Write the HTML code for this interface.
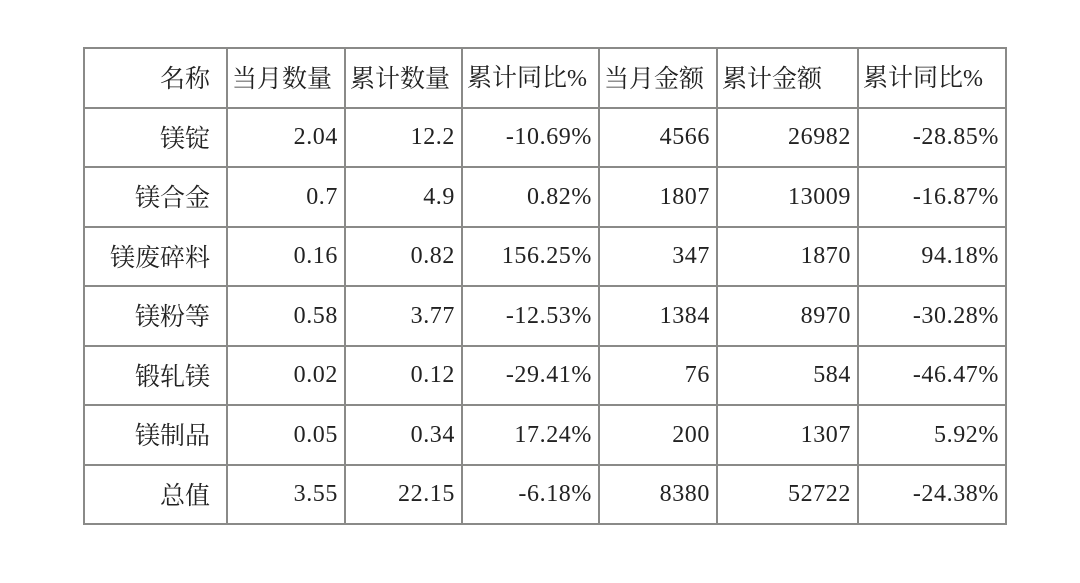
<!DOCTYPE html>
<html><head><meta charset="utf-8"><style>
html,body{margin:0;padding:0;background:#fff;}
body{width:1080px;height:583px;position:relative;overflow:hidden;}
table{position:absolute;left:83px;top:47px;border-collapse:collapse;table-layout:fixed;
font-family:"Noto Serif CJK SC","Liberation Serif",serif;font-size:25px;color:#222;}
td{border:2px solid #8a8a88;height:57.5px;padding:0 6px;text-align:right;white-space:nowrap;overflow:hidden;line-height:1;}
td:first-child{padding-right:16px;}
tr.h td{text-align:left;padding-left:4px;}
tr.h td:first-child{text-align:right;}
.n{font-family:"Liberation Serif",serif;font-size:24px;letter-spacing:0.6px;}
</style></head><body>
<table>
<colgroup><col style="width:143px"><col style="width:118px"><col style="width:117px"><col style="width:137px"><col style="width:118px"><col style="width:141px"><col style="width:148px"></colgroup>
<tr class="h"><td>名称</td><td>当月数量</td><td>累计数量</td><td>累计同比<span class="n">%</span></td><td>当月金额</td><td>累计金额</td><td>累计同比<span class="n">%</span></td></tr>
<tr><td>镁锭</td><td class="n">2.04</td><td class="n">12.2</td><td class="n">-10.69%</td><td class="n">4566</td><td class="n">26982</td><td class="n">-28.85%</td></tr>
<tr><td>镁合金</td><td class="n">0.7</td><td class="n">4.9</td><td class="n">0.82%</td><td class="n">1807</td><td class="n">13009</td><td class="n">-16.87%</td></tr>
<tr><td>镁废碎料</td><td class="n">0.16</td><td class="n">0.82</td><td class="n">156.25%</td><td class="n">347</td><td class="n">1870</td><td class="n">94.18%</td></tr>
<tr><td>镁粉等</td><td class="n">0.58</td><td class="n">3.77</td><td class="n">-12.53%</td><td class="n">1384</td><td class="n">8970</td><td class="n">-30.28%</td></tr>
<tr><td>锻轧镁</td><td class="n">0.02</td><td class="n">0.12</td><td class="n">-29.41%</td><td class="n">76</td><td class="n">584</td><td class="n">-46.47%</td></tr>
<tr><td>镁制品</td><td class="n">0.05</td><td class="n">0.34</td><td class="n">17.24%</td><td class="n">200</td><td class="n">1307</td><td class="n">5.92%</td></tr>
<tr><td>总值</td><td class="n">3.55</td><td class="n">22.15</td><td class="n">-6.18%</td><td class="n">8380</td><td class="n">52722</td><td class="n">-24.38%</td></tr>
</table>
</body></html>
